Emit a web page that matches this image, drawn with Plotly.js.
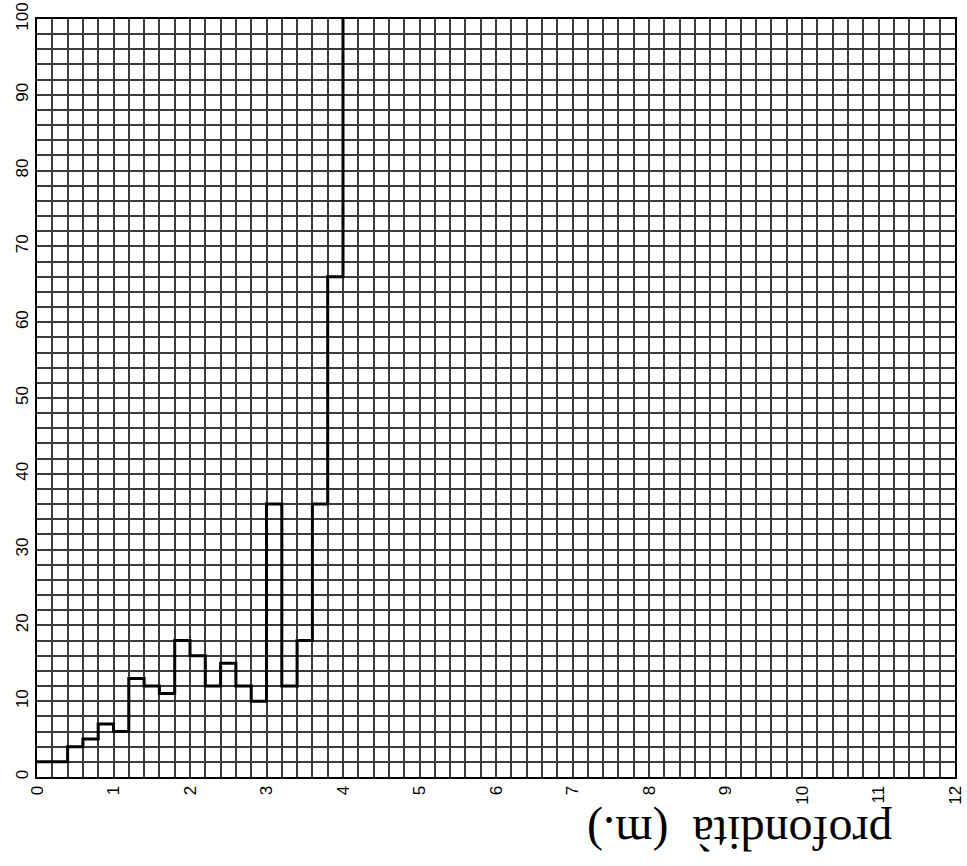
<!DOCTYPE html>
<html>
<head>
<meta charset="utf-8">
<script src="https://cdn.plot.ly/plotly-3.0.1.min.js"></script>
<style>html,body{margin:0;padding:0;background:#fff;}#chart{width:967px;height:866px;}</style>
</head>
<body>
<div id="chart"></div>
<script>
// depth (m) at the start of each 0.2 m interval, and the blow count read for it
const depth = [0, 0.2, 0.4, 0.6, 0.8, 1.0, 1.2, 1.4, 1.6, 1.8, 2.0, 2.2, 2.4, 2.6, 2.8, 3.0, 3.2, 3.4, 3.6, 3.8, 4.0];
const blows = [2, 2, 4, 5, 7, 6, 13, 12, 11, 18, 16, 12, 15, 12, 10, 36, 12, 18, 36, 66, 100];
const xTicks = [0,1,2,3,4,5,6,7,8,9,10,11,12];
const yTicks = [0,10,20,30,40,50,60,70,80,90,100];
const titleText = "profondità  (m.)";

// grid positions (every 0.2 m on x, every 2 on y); labels only at the ticks above
const xGrid = [], xGridText = [];
for (let i = 0; i <= 60; i++) {
  const v = Math.round(i * 2) / 10;
  xGrid.push(v);
  xGridText.push(xTicks.includes(v) ? String(v) : "");
}
const yGrid = [], yGridText = [];
for (let i = 0; i <= 50; i++) {
  const v = i * 2;
  yGrid.push(v);
  yGridText.push(yTicks.includes(v) ? String(v) : "");
}

const gridCol = "#3c3c3c";
const tickFont = {family: "Liberation Sans, Arial, sans-serif", color: "#000", size: 17};
const trace = {
  x: depth, y: blows, type: "scatter", mode: "lines",
  line: {shape: "hv", color: "#000", width: 3},
  hoverinfo: "skip", showlegend: false
};
const layout = {
  width: 967, height: 866,
  margin: {l: 37, r: 12, t: 19, b: 89},
  paper_bgcolor: "#fff", plot_bgcolor: "#fff",
  font: tickFont,
  xaxis: {
    range: [0, 12], tickmode: "array", tickvals: xGrid, ticktext: xGridText, tickangle: -90,
    tickfont: tickFont,
    showgrid: true, gridcolor: gridCol, gridwidth: 2,
    showline: true, linecolor: "#000", linewidth: 2, mirror: true,
    zeroline: false, ticks: "", ticklen: 0, automargin: false, ticklabeloverflow: "allow"
  },
  yaxis: {
    range: [0, 100], tickmode: "array", tickvals: yGrid, ticktext: yGridText, tickangle: -90,
    tickfont: tickFont,
    showgrid: true, gridcolor: gridCol, gridwidth: 2,
    showline: true, linecolor: "#000", linewidth: 2, mirror: true,
    zeroline: false, ticks: "", ticklen: 0, automargin: false, ticklabeloverflow: "allow"
  },
  annotations: [{
    text: titleText, xref: "paper", yref: "paper", x: 0.766, y: -0.073,
    xanchor: "center", yanchor: "middle", showarrow: false, textangle: 180,
    font: {family: "Liberation Serif, serif", size: 48, color: "#000"}
  }]
};
Plotly.newPlot("chart", [trace], layout, {staticPlot: true, displayModeBar: false});
</script>
</body>
</html>
